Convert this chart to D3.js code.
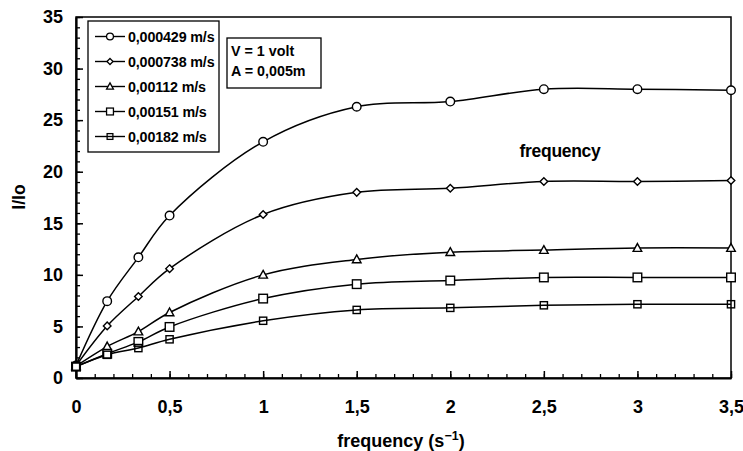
<!DOCTYPE html>
<html>
<head>
<meta charset="utf-8">
<script src="https://cdn.jsdelivr.net/npm/d3@7"></script>
<style>
  body { margin: 0; background: #fff; }
  svg { display: block; font-family: "Liberation Sans", Arial, sans-serif; font-weight: bold; }
</style>
</head>
<body>
<svg id="chart"></svg>
<script>
// frequency values (s^-1)
const freq = [0, 1 / 6, 1 / 3, 0.5, 1, 1.5, 2, 2.5, 3, 3.5];

// I/Io for each flow velocity
const s0429 = [1.2, 7.45, 11.7, 15.75, 22.9, 26.3, 26.8, 28.0, 28.0, 27.9];
const s0738 = [1.2, 5.05, 7.9, 10.6, 15.85, 18.0, 18.4, 19.05, 19.05, 19.15];
const s112 = [1.15, 3.05, 4.5, 6.35, 10.0, 11.5, 12.2, 12.4, 12.6, 12.6];
const s151 = [1.1, 2.35, 3.5, 4.95, 7.7, 9.1, 9.45, 9.75, 9.75, 9.75];
const s182 = [1.1, 2.25, 2.9, 3.75, 5.55, 6.6, 6.8, 7.05, 7.15, 7.15];

const seriesNames = ['0,000429 m/s', '0,000738 m/s', '0,00112 m/s', '0,00151 m/s', '0,00182 m/s'];
const seriesValues = [s0429, s0738, s112, s151, s182];
const markerTypes = ['circle', 'diamond', 'triangle', 'square', 'smallsquare'];

const xTicks = [0, 0.5, 1, 1.5, 2, 2.5, 3, 3.5];
const yTicks = [0, 5, 10, 15, 20, 25, 30, 35];

const width = 743, height = 451;
const margin = { top: 17, right: 12, bottom: 73, left: 76 };
const innerW = width - margin.left - margin.right;
const innerH = height - margin.top - margin.bottom;

const svg = d3.select('#chart')
  .attr('width', width)
  .attr('height', height);

const g = svg.append('g')
  .attr('transform', `translate(${margin.left},${margin.top})`);

const x = d3.scaleLinear().domain([0, 3.5]).range([0, innerW]);
const y = d3.scaleLinear().domain([0, 35]).range([innerH, 0]);

const fmt = d => String(d).replace('.', ',');

// frame (top + right thinner)
g.append('rect')
  .attr('width', innerW)
  .attr('height', innerH)
  .attr('fill', 'none')
  .attr('stroke', '#000')
  .attr('stroke-width', 1.5);

// minor ticks, pointing inward
const xAxis = d3.axisBottom(x).tickValues(d3.range(0, 3.51, 0.1)).tickSizeInner(-4).tickSizeOuter(0).tickFormat('');
g.append('g').attr('transform', `translate(0,${innerH})`).call(xAxis)
  .call(a => a.selectAll('line').attr('stroke-width', 1.3));
const xMajor = d3.axisBottom(x).tickValues(xTicks).tickSizeInner(-7).tickSizeOuter(0).tickPadding(22).tickFormat(fmt);
g.append('g').attr('transform', `translate(0,${innerH})`).call(xMajor)
  .call(a => a.select('.domain').attr('stroke-width', 2.2))
  .call(a => a.selectAll('line').attr('stroke-width', 1.5))
  .call(a => a.selectAll('text').attr('font-size', 18).attr('font-family', 'inherit').attr('fill', '#000'));

const yAxis = d3.axisLeft(y).tickValues(d3.range(0, 36, 1)).tickSizeInner(-4).tickSizeOuter(0).tickFormat('');
g.append('g').call(yAxis)
  .call(a => a.selectAll('line').attr('stroke-width', 1.3));
const yMajor = d3.axisLeft(y).tickValues(yTicks).tickSizeInner(-7).tickSizeOuter(0).tickPadding(13).tickFormat(fmt);
g.append('g').call(yMajor)
  .call(a => a.select('.domain').attr('stroke-width', 2.2))
  .call(a => a.selectAll('line').attr('stroke-width', 1.5))
  .call(a => a.selectAll('text').attr('font-size', 18).attr('font-family', 'inherit').attr('fill', '#000'));

// marker drawing
function drawMarker(sel, type) {
  if (type === 'circle') {
    sel.append('circle').attr('r', 4.3);
  } else if (type === 'diamond') {
    sel.append('path').attr('d', 'M0,-3.8L3.8,0L0,3.8L-3.8,0Z');
  } else if (type === 'triangle') {
    sel.append('path').attr('d', 'M0,-4.5L4.3,3.3L-4.3,3.3Z');
  } else if (type === 'square') {
    sel.append('rect').attr('x', -4.3).attr('y', -4.3).attr('width', 8.6).attr('height', 8.6);
  } else {
    sel.append('rect').attr('x', -3.6).attr('y', -3.6).attr('width', 7.2).attr('height', 7.2)
      .attr('fill', 'none');
  }
}

const line = d3.line()
  .x((d, i) => x(freq[i]))
  .y(d => y(d))
  .curve(d3.curveCatmullRom.alpha(0.5));

seriesValues.forEach((vals, k) => {
  g.append('path')
    .datum(vals)
    .attr('d', line)
    .attr('fill', 'none')
    .attr('stroke', '#000')
    .attr('stroke-width', 1.5);
});

seriesValues.forEach((vals, k) => {
  g.append('g').selectAll('g')
    .data(vals)
    .join('g')
    .attr('transform', (d, i) => `translate(${x(freq[i])},${y(d)})`)
    .attr('fill', '#fff')
    .attr('stroke', '#000')
    .attr('stroke-width', 1.4)
    .each(function () { drawMarker(d3.select(this), markerTypes[k]); });
});

// legend
const legend = svg.append('g').attr('transform', 'translate(88,21)');
legend.append('rect')
  .attr('width', 131)
  .attr('height', 131)
  .attr('fill', '#fff')
  .attr('stroke', '#000')
  .attr('stroke-width', 1.3);

seriesNames.forEach((name, k) => {
  const row = legend.append('g').attr('transform', `translate(0,${15.5 + k * 25})`);
  row.append('line')
    .attr('x1', 7).attr('x2', 37)
    .attr('stroke', '#000').attr('stroke-width', 1.4);
  const m = row.append('g')
    .attr('transform', 'translate(22,0) scale(0.8)')
    .attr('fill', '#fff').attr('stroke', '#000').attr('stroke-width', 1.6);
  drawMarker(m, markerTypes[k]);
  row.append('text')
    .attr('x', 40).attr('y', 5)
    .attr('font-size', 14.3)
    .attr('letter-spacing', -0.15)
    .text(name);
});

// conditions box
const info = svg.append('g').attr('transform', 'translate(227,38)');
info.append('rect')
  .attr('width', 94).attr('height', 50)
  .attr('fill', '#fff').attr('stroke', '#000').attr('stroke-width', 1.3);
info.append('text').attr('x', 4).attr('y', 18).attr('font-size', 14.3).text('V = 1 volt');
info.append('text').attr('x', 4).attr('y', 38).attr('font-size', 14.3).text('A = 0,005m');

// floating label
svg.append('text')
  .attr('x', 560).attr('y', 157)
  .attr('text-anchor', 'middle')
  .attr('font-size', 17.5)
  .attr('letter-spacing', -0.3)
  .text('frequency');

// axis titles
svg.append('text')
  .attr('transform', 'translate(25,197) rotate(-90)')
  .attr('text-anchor', 'middle')
  .attr('font-size', 17.5)
  .text('I/Io');

const xt = svg.append('text')
  .attr('x', 401).attr('y', 447)
  .attr('text-anchor', 'middle')
  .attr('font-size', 18);
xt.append('tspan').text('frequency  (s');
xt.append('tspan').attr('dy', -7).attr('font-size', 12.5).text('−1');
xt.append('tspan').attr('dy', 7).text(')');
</script>
</body>
</html>
